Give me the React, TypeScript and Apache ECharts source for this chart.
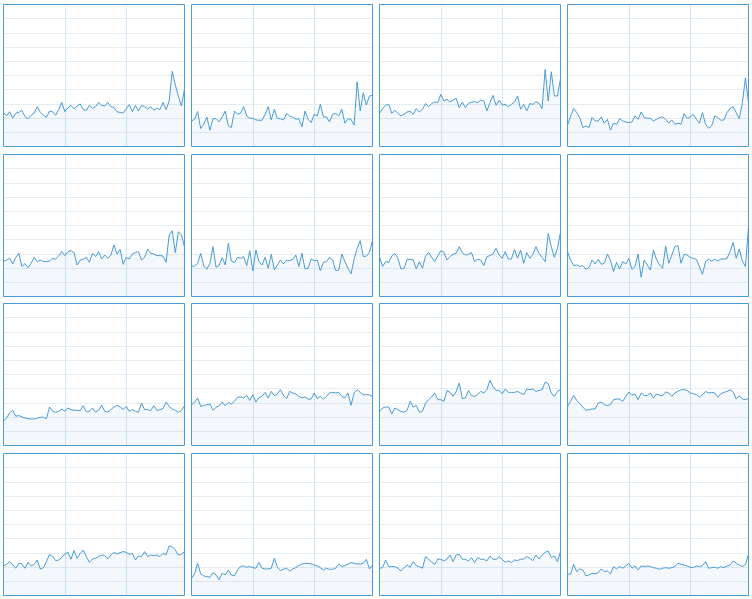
import React, { useEffect, useRef } from "react";
import * as echarts from "echarts";

const panel01 = [2.4,2.15,2.45,2.0,2.35,2.4,2.55,2.1,1.95,2.2,2.35,2.8,2.4,2.2,2.05,2.5,2.45,2.2,2.6,3.1,2.45,2.75,2.9,2.65,2.85,3.0,2.6,2.55,2.9,2.7,2.8,3.1,2.9,2.85,3.1,2.8,2.75,2.45,2.4,2.35,2.65,2.95,2.45,2.9,2.5,2.9,2.8,2.65,2.8,2.55,2.7,2.6,3.1,2.6,3.2,5.3,4.35,3.55,2.85,4.05];
const panel02 = [1.80,1.92,2.46,1.26,1.57,2.08,1.15,1.96,1.96,1.73,2.08,2.50,1.45,1.33,2.50,2.27,2.34,2.81,2.15,1.99,1.99,1.87,1.85,1.85,2.27,2.81,1.87,2.62,1.96,1.96,1.87,2.32,2.15,2.08,1.92,1.96,1.38,2.50,1.92,1.68,2.27,2.15,2.97,2.08,2.08,1.73,2.27,2.34,2.15,2.62,1.64,1.96,1.92,1.50,4.56,2.50,3.79,2.92,3.56,3.60];
const panel03 = [2.32,2.67,2.90,2.97,2.34,2.55,2.34,2.15,2.27,2.43,2.50,2.27,2.67,2.43,2.62,3.02,2.81,3.02,3.13,3.09,3.67,3.20,3.32,3.13,3.27,3.39,2.74,3.13,2.74,3.04,3.13,3.16,3.09,3.27,3.20,2.50,3.09,3.60,2.90,3.25,2.92,2.97,2.81,2.97,3.13,3.56,2.62,2.97,2.50,3.02,2.97,3.16,3.04,2.67,5.43,3.20,5.26,3.56,3.56,4.77];
const panel04 = [1.50,2.15,2.67,2.39,2.04,1.33,1.45,1.33,2.04,1.80,1.80,2.08,1.64,1.92,1.15,1.64,1.57,1.96,1.80,1.73,1.68,1.73,2.15,1.92,2.43,2.04,1.99,1.99,1.80,1.92,2.04,2.08,1.92,1.64,1.87,1.57,1.64,1.57,2.32,1.99,2.08,2.27,1.92,1.64,2.39,1.57,1.29,1.45,2.15,2.04,1.85,1.87,2.39,2.67,2.81,2.39,1.96,3.09,4.84,3.09];
const panel05 = [2.46,2.57,2.69,2.29,2.76,3.04,2.11,2.32,2.04,2.34,2.76,2.46,2.57,2.46,2.46,2.50,2.69,2.64,2.85,3.16,2.88,3.16,3.23,3.09,2.22,2.57,2.62,2.76,2.41,3.04,2.81,3.16,2.64,2.92,2.69,2.92,3.63,2.99,3.32,2.27,2.76,2.64,2.99,3.09,3.16,2.57,2.76,3.35,3.04,2.99,2.88,2.88,2.85,2.41,4.33,4.63,3.09,4.56,4.33,3.51];
const panel06 = [2.11,2.15,2.34,3.04,2.15,1.92,2.34,3.51,2.06,2.18,2.74,2.22,3.74,2.50,2.39,2.76,2.69,2.81,2.18,3.23,1.80,3.27,2.46,2.22,2.76,1.99,2.97,1.87,2.22,2.57,2.29,2.57,2.53,2.62,2.92,2.11,3.04,1.94,1.99,2.64,2.53,2.57,1.82,2.41,2.46,2.76,2.57,1.82,1.87,2.99,2.46,1.99,1.59,2.62,3.39,3.93,2.81,2.85,3.11,3.93];
const panel07 = [2.81,2.11,2.46,2.39,2.85,3.04,2.69,1.94,1.99,2.62,2.62,2.57,1.94,2.46,1.99,2.85,3.11,2.76,2.46,2.88,3.23,3.11,2.57,2.81,2.99,3.04,3.51,3.09,2.92,2.97,3.09,2.46,2.62,2.57,2.18,2.81,2.88,2.99,3.39,2.92,2.69,3.16,2.64,2.64,3.32,2.69,3.27,2.34,3.09,2.69,2.97,3.51,3.04,2.76,2.46,4.44,3.51,2.76,3.39,4.51];
const panel08 = [3.16,2.57,2.18,2.22,2.11,2.18,1.92,2.04,2.57,2.29,2.62,2.27,2.34,2.99,2.57,1.75,2.41,1.94,2.46,2.29,2.69,1.92,2.11,2.99,1.36,2.57,2.22,1.87,3.27,2.62,2.22,1.99,3.56,2.34,2.92,3.51,3.58,2.34,2.97,2.92,2.76,2.69,2.62,2.11,1.57,2.46,2.62,2.50,2.62,2.50,2.64,2.64,2.69,3.16,3.81,2.69,3.35,2.50,2.11,4.91];
const panel09 = [1.71,1.94,2.29,2.48,2.06,2.11,2.01,1.94,1.89,1.87,1.87,1.92,1.99,1.99,1.89,2.71,2.41,2.34,2.41,2.57,2.41,2.64,2.53,2.48,2.48,2.46,2.81,2.36,2.41,2.64,2.34,2.48,2.83,2.41,2.36,2.53,2.71,2.83,2.71,2.53,2.76,2.41,2.53,2.41,2.34,2.99,2.53,2.53,2.46,2.81,2.46,2.53,2.60,3.06,2.76,2.57,2.48,2.34,2.46,2.81];
const panel10 = [2.88,3.04,3.35,2.76,2.81,2.88,2.92,2.48,2.69,2.81,3.06,2.81,3.04,2.92,3.11,3.39,3.42,3.35,3.53,3.18,3.58,3.06,3.39,3.46,3.74,3.35,3.81,3.51,3.63,3.93,3.51,3.30,3.81,3.70,3.63,3.46,3.35,3.42,3.27,3.27,3.70,3.30,3.46,3.27,3.46,3.70,3.74,3.70,3.74,3.46,3.35,3.70,2.83,3.70,3.93,3.74,3.58,3.58,3.58,3.42];
const panel11 = [2.41,2.64,2.71,2.71,2.22,2.64,2.53,2.41,2.34,2.48,3.11,2.71,2.81,2.34,2.41,2.99,3.23,3.42,3.70,3.23,3.23,3.11,3.88,3.74,3.46,3.81,4.40,3.30,3.35,3.88,3.51,3.46,3.58,3.81,3.70,3.93,4.58,4.16,3.88,3.88,3.65,3.98,3.74,3.74,3.74,3.81,3.70,3.58,3.98,3.93,3.98,3.81,3.88,3.93,4.47,4.35,3.70,3.46,3.81,3.93];
const panel12 = [2.76,3.11,3.53,3.18,2.95,2.71,2.48,2.53,2.57,2.57,2.99,3.06,2.88,2.81,2.88,3.23,3.27,3.27,3.11,3.46,3.77,3.53,3.63,3.23,3.70,3.53,3.51,3.70,3.35,3.63,3.53,3.51,3.77,3.70,3.46,3.70,3.81,3.93,3.93,3.88,3.70,3.65,3.58,3.42,3.58,3.81,3.70,3.74,3.70,3.42,3.63,3.74,3.81,3.93,3.77,3.27,3.51,3.27,3.23,3.30];
const panel13 = [2.08,2.20,2.39,2.15,1.92,2.27,2.22,1.92,2.34,2.08,2.20,2.50,1.85,1.96,2.39,2.90,2.74,2.46,2.50,2.69,2.92,3.04,2.55,3.16,2.62,2.97,3.20,2.74,2.34,2.57,2.62,2.74,2.85,2.81,2.57,2.85,3.04,2.92,3.02,3.09,3.04,2.90,2.97,2.50,2.78,2.74,3.09,2.74,2.85,2.81,2.85,2.74,2.97,2.85,3.49,3.44,3.20,2.85,2.92,3.09];
const panel14 = [1.22,1.52,2.27,1.52,1.38,1.33,1.29,1.61,1.45,1.10,1.57,1.45,1.80,1.45,1.38,1.80,2.04,2.08,1.99,2.04,1.96,1.92,2.34,1.92,1.87,1.87,1.92,2.62,1.99,1.75,1.85,1.92,1.73,1.87,1.96,2.11,2.22,2.27,2.27,2.22,2.15,2.08,1.96,1.80,1.92,1.85,1.85,1.92,2.22,2.04,2.11,2.20,2.32,2.27,2.22,2.22,2.27,2.55,1.87,2.15];
const panel15 = [1.92,1.96,2.50,2.04,2.04,2.04,1.92,1.73,1.96,2.15,1.99,2.39,2.11,2.04,1.92,2.74,2.57,2.34,2.20,2.57,2.55,2.43,2.57,2.85,2.39,2.85,2.90,2.55,2.55,2.43,2.67,2.32,2.67,2.55,2.55,2.43,2.78,2.55,2.55,2.74,2.55,2.34,2.43,2.32,2.50,2.46,2.55,2.57,2.74,2.62,2.46,2.85,2.57,2.85,3.04,3.13,2.69,2.78,2.39,3.09];
const panel16 = [1.50,1.50,2.20,1.68,1.87,1.80,1.38,1.45,1.57,1.52,1.61,1.87,1.68,1.73,1.52,2.04,1.87,2.04,1.92,2.08,2.27,1.92,2.08,1.80,2.08,2.04,2.08,2.04,1.96,1.92,1.85,1.92,1.96,1.92,1.96,2.04,2.27,2.20,2.15,2.08,1.99,1.96,2.08,2.04,2.11,2.39,1.92,1.96,1.99,1.92,2.04,1.96,2.08,2.15,2.43,2.27,2.15,2.04,2.20,2.90];

const panels = [
  panel01, panel02, panel03, panel04,
  panel05, panel06, panel07, panel08,
  panel09, panel10, panel11, panel12,
  panel13, panel14, panel15, panel16,
];

const COLS = 4;
const LINE = "#4a9dd3";
const COL_LEFT = [3.5, 191.5, 379.5, 567.5];
const ROW_TOP = [4.5, 154.5, 303.5, 453.5];

export default function App() {
  const ref = useRef<HTMLDivElement>(null);
  useEffect(() => {
    if (!ref.current) return;
    const chart = echarts.init(ref.current, undefined, { renderer: "svg" });
    const grid: any[] = [];
    const xAxis: any[] = [];
    const yAxis: any[] = [];
    const series: any[] = [];
    panels.forEach((data, i) => {
      const r = Math.floor(i / COLS);
      const c = i % COLS;
      grid.push({
        left: COL_LEFT[c],
        top: ROW_TOP[r],
        width: 181,
        height: 142,
        show: true,
        z: 5,
        borderColor: LINE,
        borderWidth: 1,
        backgroundColor: "transparent",
        containLabel: false,
      });
      xAxis.push({
        type: "category",
        gridIndex: i,
        boundaryGap: false,
        data: data.map((_, k) => k),
        axisLine: { show: false },
        axisTick: { show: false },
        axisLabel: { show: false },
        splitLine: {
          show: true,
          interval: 19,
          showMinLine: false,
          showMaxLine: true,
          lineStyle: { color: "#d3e6f5", width: 1 },
        },
      });
      yAxis.push({
        type: "value",
        gridIndex: i,
        min: 0,
        max: 10,
        interval: 1,
        axisLine: { show: false },
        axisTick: { show: false },
        axisLabel: { show: false },
        splitLine: {
          show: true,
          showMinLine: false,
          showMaxLine: false,
          lineStyle: { color: "#e6ecf2", width: 1 },
        },
      });
      series.push({
        type: "line",
        xAxisIndex: i,
        yAxisIndex: i,
        data,
        showSymbol: false,
        symbol: "none",
        lineStyle: { color: LINE, width: 1 },
        areaStyle: { color: "rgba(80,140,200,0.09)" },
      });
    });
    chart.setOption({ animation: false, grid, xAxis, yAxis, series });
    return () => chart.dispose();
  }, []);
  return (
    <div
      ref={ref}
      style={{ position: "absolute", left: 0, top: 0, width: 752, height: 599, background: "#fff" }}
    />
  );
}
